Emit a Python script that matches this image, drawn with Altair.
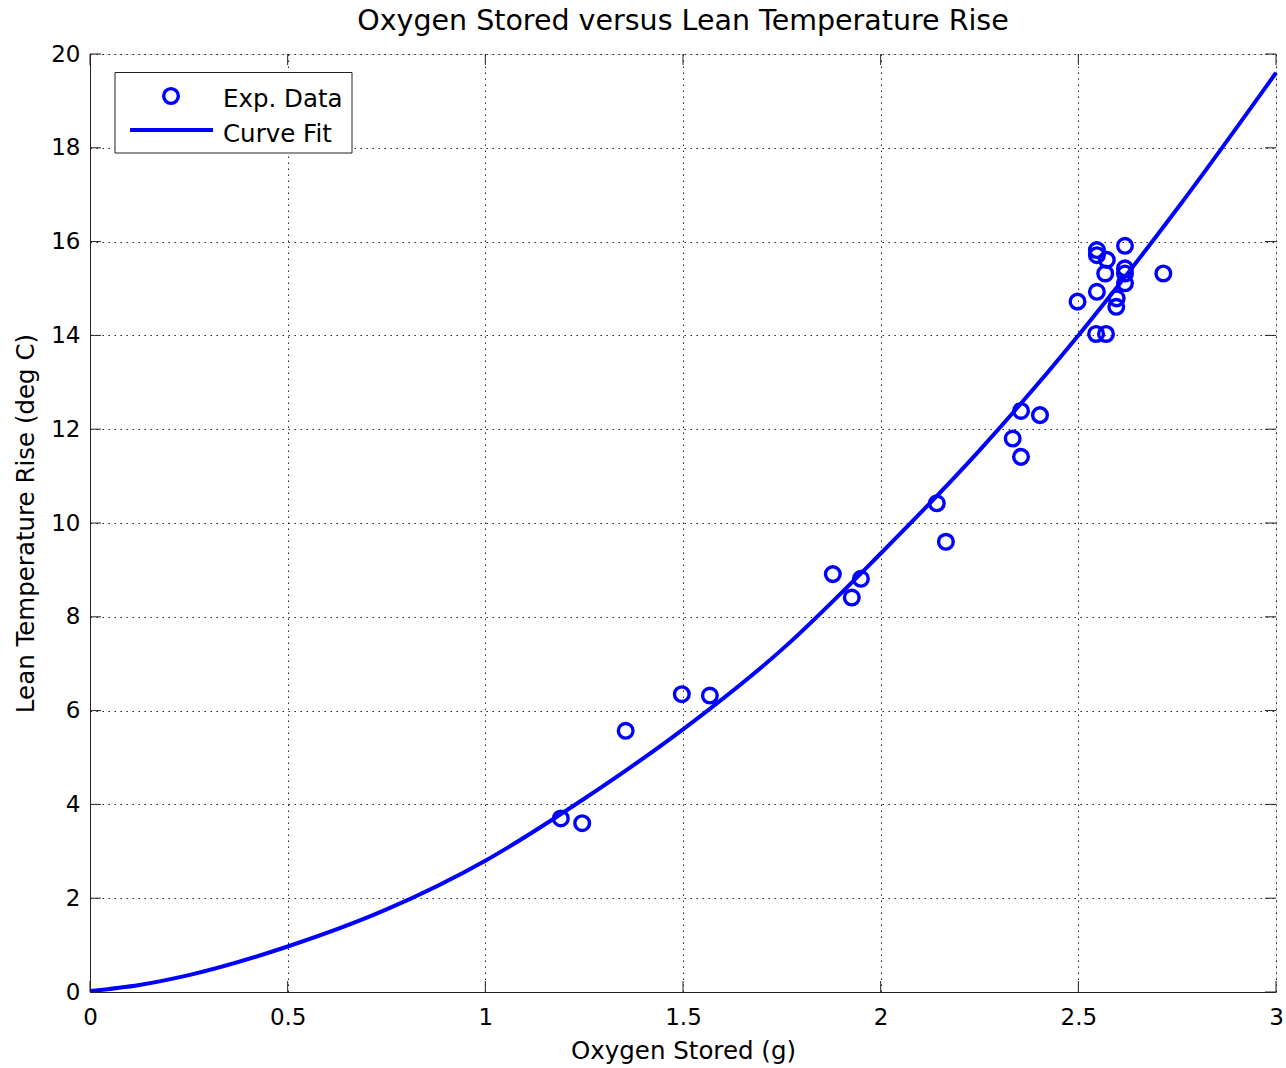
import altair as alt
import pandas as pd

exp_x = [1.191, 1.245, 1.355, 1.497, 1.568, 1.879, 1.927, 1.950, 2.142, 2.165,
         2.334, 2.355, 2.355, 2.403, 2.618, 2.547, 2.547, 2.572, 2.568, 2.618,
         2.618, 2.618, 2.715, 2.547, 2.498, 2.597, 2.596, 2.545, 2.570]
exp_y = [3.70, 3.60, 5.57, 6.35, 6.32, 8.91, 8.41, 8.81, 10.42, 9.60,
         11.80, 12.39, 11.41, 12.30, 15.91, 15.82, 15.71, 15.61, 15.32, 15.43,
         15.32, 15.11, 15.32, 14.93, 14.72, 14.79, 14.61, 14.03, 14.03]

# Curve fit
fit_x = [0.0, 0.125, 0.25, 0.5, 0.75, 1.0, 1.25, 1.5, 1.75, 2.0, 2.25, 2.5, 2.75, 3.0]
fit_y = [0.02, 0.15, 0.36, 0.97, 1.76, 2.80, 4.12, 5.60, 7.30, 9.35, 11.55, 14.0, 16.7, 19.6]

x_ticks = [0, 0.5, 1, 1.5, 2, 2.5, 3]
y_ticks = [0, 2, 4, 6, 8, 10, 12, 14, 16, 18, 20]

legend_labels = ["Exp. Data", "Curve Fit"]

FONT = "DejaVu Sans"
BLUE = "#0000FF"
FRAME = "#222222"
W, H = 1186, 938
MSIZE = 215
MSTROKE = 3.4

pts = pd.DataFrame({"x": exp_x, "y": exp_y})
fit = pd.DataFrame({"x": fit_x, "y": fit_y})
xt = pd.DataFrame({"x": x_ticks})
yt = pd.DataFrame({"y": y_ticks})
one = pd.DataFrame({"a": [0]})

xscale = alt.Scale(domain=[0, 3], nice=False, zero=False)
yscale = alt.Scale(domain=[0, 20], nice=False, zero=False)

x_axis = alt.Axis(
    title="Oxygen Stored (g)", values=x_ticks, format="~g",
    grid=True, gridDash=[1.5, 4.5], gridColor="#000000", gridOpacity=0.85, gridWidth=1,
    ticks=False, tickSize=0, labelPadding=14, titlePadding=10, labelFlush=False,
    labelFontSize=23, titleFontSize=24.5, labelFont=FONT, titleFont=FONT,
    titleFontWeight="normal", labelColor="#000", titleColor="#000",
    domainColor=FRAME, domainWidth=1,
)
y_axis = alt.Axis(
    title="Lean Temperature Rise (deg C)", values=y_ticks, format="~g",
    grid=True, gridDash=[1.5, 4.5], gridColor="#000000", gridOpacity=0.85, gridWidth=1,
    ticks=False, tickSize=0, labelPadding=10, titlePadding=12, labelFlush=False,
    labelFontSize=23, titleFontSize=24.5, labelFont=FONT, titleFont=FONT,
    titleFontWeight="normal", labelColor="#000", titleColor="#000",
    domainColor=FRAME, domainWidth=1,
)

curve = alt.Chart(fit).mark_line(color=BLUE, strokeWidth=4, interpolate="monotone").encode(
    x=alt.X("x:Q", scale=xscale, axis=x_axis),
    y=alt.Y("y:Q", scale=yscale, axis=y_axis),
)

points = alt.Chart(pts).mark_point(
    shape="circle", filled=False, color=BLUE, size=MSIZE, strokeWidth=MSTROKE, opacity=1
).encode(
    x=alt.X("x:Q"),
    y=alt.Y("y:Q"),
)

TL = 11
tick_bottom = alt.Chart(xt).mark_rule(color=FRAME, strokeWidth=1).encode(
    x=alt.X("x:Q"), y=alt.value(H), y2=alt.value(H - TL))
tick_top = alt.Chart(xt).mark_rule(color=FRAME, strokeWidth=1).encode(
    x=alt.X("x:Q"), y=alt.value(0), y2=alt.value(TL))
tick_left = alt.Chart(yt).mark_rule(color=FRAME, strokeWidth=1).encode(
    y=alt.Y("y:Q"), x=alt.value(0), x2=alt.value(TL))
tick_right = alt.Chart(yt).mark_rule(color=FRAME, strokeWidth=1).encode(
    y=alt.Y("y:Q"), x=alt.value(W), x2=alt.value(W - TL))

# Legend (drawn manually to match the boxed MATLAB legend)
leg_box = alt.Chart(one).mark_rect(fill="white", stroke=FRAME, strokeWidth=1).encode(
    x=alt.value(25), x2=alt.value(262), y=alt.value(18.5), y2=alt.value(99))
leg_pt = alt.Chart(one).mark_point(
    shape="circle", filled=False, color=BLUE, size=MSIZE, strokeWidth=MSTROKE, opacity=1
).encode(x=alt.value(81), y=alt.value(42))
leg_line = alt.Chart(one).mark_rule(color=BLUE, strokeWidth=4).encode(
    x=alt.value(40), x2=alt.value(123), y=alt.value(76))
leg_t1 = alt.Chart(one).mark_text(
    text=legend_labels[0], font=FONT, fontSize=24.5, align="left", baseline="alphabetic", color="#000"
).encode(x=alt.value(133), y=alt.value(52.5))
leg_t2 = alt.Chart(one).mark_text(
    text=legend_labels[1], font=FONT, fontSize=24.5, align="left", baseline="alphabetic", color="#000"
).encode(x=alt.value(133), y=alt.value(87.5))

chart = alt.layer(
    curve, points, tick_bottom, tick_top, tick_left, tick_right,
    leg_box, leg_pt, leg_line, leg_t1, leg_t2,
).properties(
    width=W, height=H,
    title=alt.TitleParams(
        text="Oxygen Stored versus Lean Temperature Rise",
        font=FONT, fontSize=28.5, fontWeight="normal", color="#000",
        anchor="middle", offset=8,
    ),
    autosize=alt.AutoSizeParams(type="none"),
    padding={"left": 90, "top": 54, "right": 10, "bottom": 76},
).configure_view(
    stroke=FRAME, strokeWidth=1
).configure(background="white")

chart.save("out.html", embed_options={"renderer": "svg", "actions": False})
